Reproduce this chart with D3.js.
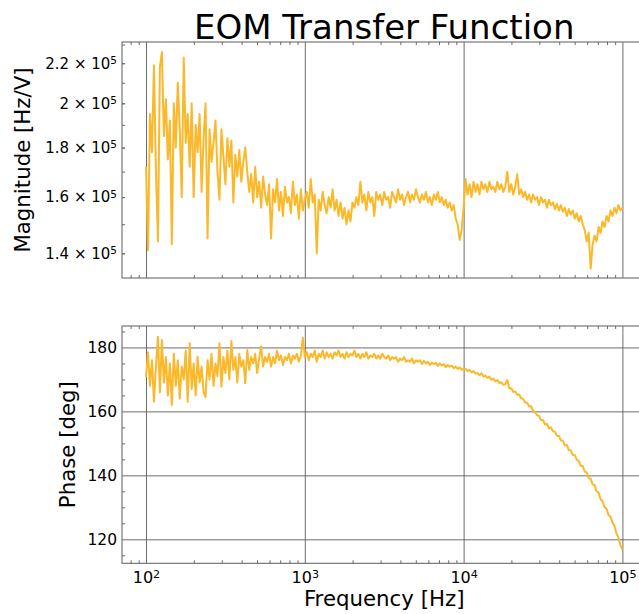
<!DOCTYPE html>
<html>
<head>
<meta charset="utf-8">
<script src="https://cdn.jsdelivr.net/npm/d3@7"></script>
<style>
  body { margin: 0; background: #fff; }
  text { font-family: "DejaVu Sans", sans-serif; fill: #000; }
</style>
</head>
<body>
<div id="chart"></div>
<script>
// sweep frequencies [Hz]
const frequency = [
  100, 102.9, 105.9, 109, 112.2, 115.5, 118.9, 122.3, 125.9, 129.6, 133.4, 137.2, 141.3, 145.4, 149.6, 154, 158.5, 163.1, 167.9, 172.8,
  177.8, 183, 188.4, 193.9, 199.5, 205.4, 211.3, 217.5, 223.9, 230.4, 237.1, 244.1, 251.2, 258.5, 266.1, 273.8, 281.8, 290.1, 298.5, 307.3,
  316.2, 325.5, 335, 344.7, 354.8, 365.2, 375.8, 386.8, 398.1, 409.7, 421.7, 434, 446.7, 459.7, 473.2, 487, 501.2, 515.8, 530.9, 546.4,
  562.3, 578.8, 595.7, 613.1, 631, 649.4, 668.3, 687.9, 708, 728.6, 749.9, 771.8, 794.3, 817.5, 841.4, 866, 891.3, 917.3, 944.1, 971.6,
  1000, 1029, 1059, 1090, 1122, 1155, 1189, 1223, 1259, 1296, 1334, 1372, 1413, 1454, 1496, 1540, 1585, 1631, 1679, 1728,
  1778, 1830, 1884, 1939, 1995, 2054, 2113, 2175, 2239, 2304, 2371, 2441, 2512, 2585, 2661, 2738, 2818, 2901, 2985, 3073,
  3162, 3255, 3350, 3447, 3548, 3652, 3758, 3868, 3981, 4097, 4217, 4340, 4467, 4597, 4732, 4870, 5012, 5158, 5309, 5464,
  5623, 5788, 5957, 6131, 6310, 6494, 6683, 6879, 7080, 7286, 7499, 7718, 7943, 8175, 8414, 8660, 8913, 9173, 9441, 9716,
  10000, 10290, 10590, 10900, 11220, 11550, 11890, 12230, 12590, 12960, 13340, 13720, 14130, 14540, 14960, 15400, 15850, 16310, 16790, 17280,
  17780, 18300, 18840, 19390, 19950, 20540, 21130, 21750, 22390, 23040, 23710, 24410, 25120, 25850, 26610, 27380, 28180, 29010, 29850, 30730,
  31620, 32550, 33500, 34470, 35480, 36520, 37580, 38680, 39810, 40970, 42170, 43400, 44670, 45970, 47320, 48700, 50120, 51580, 53090, 54640,
  56230, 57880, 59570, 61310, 63100, 64940, 66830, 68790, 70800, 72860, 74990, 77180, 79430, 81750, 84140, 86600, 89130, 91730, 94410, 97160,
  100000
]

// magnitude in units of 1e5 Hz/V
const magnitude1e5 = [
  1.72, 1.41, 1.95, 1.78, 2.19, 1.70, 1.44, 2.18, 2.26, 1.85, 2.02, 1.75, 1.92, 1.43, 2.00, 1.80, 2.10, 1.88, 1.60, 2.23,
  1.82, 1.95, 1.72, 2.00, 1.60, 1.90, 1.78, 1.95, 1.62, 1.84, 2.00, 1.45, 1.88, 1.74, 1.82, 1.92, 1.70, 1.59, 1.88, 1.76,
  1.65, 1.84, 1.72, 1.83, 1.58, 1.77, 1.68, 1.79, 1.66, 1.74, 1.80, 1.70, 1.62, 1.69, 1.58, 1.72, 1.60, 1.66, 1.56, 1.68,
  1.61, 1.57, 1.65, 1.45, 1.63, 1.58, 1.67, 1.55, 1.62, 1.53, 1.64, 1.58, 1.60, 1.54, 1.66, 1.57, 1.61, 1.52, 1.63, 1.55,
  1.59, 1.62, 1.56, 1.67, 1.58, 1.61, 1.40, 1.59, 1.55, 1.62, 1.57, 1.54, 1.60, 1.56, 1.63, 1.55, 1.59, 1.53, 1.58, 1.52,
  1.56, 1.50, 1.55, 1.51, 1.58, 1.56, 1.60, 1.57, 1.66, 1.58, 1.61, 1.55, 1.62, 1.58, 1.60, 1.53, 1.62, 1.59, 1.61, 1.57,
  1.62, 1.59, 1.60, 1.56, 1.62, 1.60, 1.58, 1.63, 1.59, 1.61, 1.57, 1.60, 1.62, 1.58, 1.61, 1.59, 1.63, 1.60, 1.58, 1.61,
  1.59, 1.62, 1.58, 1.60, 1.57, 1.61, 1.59, 1.62, 1.58, 1.60, 1.57, 1.59, 1.56, 1.58, 1.55, 1.57, 1.52, 1.50, 1.445, 1.48,
  1.56, 1.67, 1.61, 1.65, 1.60, 1.66, 1.62, 1.65, 1.61, 1.66, 1.63, 1.65, 1.62, 1.66, 1.63, 1.64, 1.62, 1.66, 1.63, 1.65,
  1.62, 1.64, 1.70, 1.62, 1.65, 1.61, 1.64, 1.69, 1.61, 1.63, 1.60, 1.62, 1.59, 1.61, 1.58, 1.61, 1.59, 1.60, 1.57, 1.60,
  1.58, 1.59, 1.56, 1.59, 1.57, 1.58, 1.555, 1.575, 1.55, 1.57, 1.545, 1.56, 1.53, 1.555, 1.535, 1.55, 1.52, 1.54, 1.51, 1.53,
  1.50, 1.48, 1.44, 1.47, 1.35, 1.43, 1.46, 1.44, 1.49, 1.47, 1.51, 1.49, 1.53, 1.51, 1.55, 1.53, 1.56, 1.54, 1.57, 1.55,
  1.56
]

// phase [deg]
const phase = [
  170.8, 178.5, 168, 176, 163, 174, 183.3, 166, 182.3, 169, 177, 165, 175, 162, 178, 168, 176, 164, 174, 170,
  179, 163, 181.3, 167, 175, 165, 177, 169, 174, 166, 164.5, 176, 170, 178, 168, 175, 171, 181.3, 167.7, 177,
  172, 179, 170, 182, 173, 177, 169, 178, 174, 176, 168.8, 179.2, 173, 177, 175, 178, 172, 176.5, 180.4, 174,
  177, 175.5, 178, 174, 177, 175, 179, 176, 177.5, 174.5, 177, 176, 178, 175, 177.5, 176.5, 178, 175.5, 177.5, 183,
  177, 178.5, 176, 178, 177, 179, 175.5, 178, 177, 179, 176.5, 178.5, 177, 178, 176.5, 178.5, 177.5, 179, 177, 178,
  176.5, 178.5, 177, 178, 177.5, 179, 177, 178, 176.5, 178, 177, 178.5, 176.5, 177.5, 177, 178, 176.5, 177.5, 176.5, 178,
  177, 176.5, 177.5, 176, 177, 176.5, 177, 175.5, 176.5, 176, 177, 175.5, 176, 175.5, 176.5, 175, 176, 175.5, 176, 174.8,
  175.8, 175, 175.5, 174.5, 175.3, 174.8, 175.2, 174.2, 175, 174.3, 174.8, 173.8, 174.5, 174, 174.3, 173.5, 174, 173.3, 173.8, 173,
  173.4, 173.3, 172.6, 173.0, 172.2, 172.6, 171.8, 172.0, 171.3, 171.9, 170.9, 171.2, 170.5, 170.9, 169.9, 170.3, 169.4, 169.8, 168.9, 169.1,
  168.3, 168.5, 169.8, 167.2, 167.2, 166.1, 166.2, 165.2, 165.3, 164.1, 163.9, 162.8, 162.7, 161.5, 161.6, 160.2, 159.8, 158.8, 158.6, 157.2,
  157.3, 155.9, 156.1, 154.7, 155.0, 153.8, 153.6, 152.4, 152.3, 151.0, 150.8, 149.4, 149.5, 147.9, 147.8, 146.4, 146.3, 144.9, 144.5, 143.0,
  142.9, 141.2, 140.9, 139.2, 138.9, 137.2, 136.9, 135.0, 134.6, 132.5, 131.9, 130.1, 129.5, 127.6, 127.1, 125.2, 124.2, 121.8, 120.6, 118.2,
  116.7
]

// tick labels
const xMajorTicks = [100, 1000, 10000, 100000]
const magLabelTicks = [1.4, 1.6, 1.8, 2.0, 2.2]
const phaseTicks = [120, 140, 160, 180]
const phaseMinorTicks = [115, 125, 130, 135, 145, 150, 155, 165, 170, 175, 185]

const data = frequency.map((f, i) => ({ f, mag: magnitude1e5[i] * 1e5, phase: phase[i] }))

let dimensions = {
    width: 639,
    height: 614,
    left: 122,
    right: 646.4,
    magTop: 42,
    magBottom: 278,
    phaseTop: 326,
    phaseBottom: 563.3,
}

const lineColor = "#fbb829"
const gridColor = "#5c5c5c"
const spineColor = "#6a6a6a"

const wrapper = d3.select("#chart")
    .append("svg")
    .attr("width", dimensions.width)
    .attr("height", dimensions.height)
    .style("display", "block")

// scales
const xScale = d3.scaleLog()
    .domain([70.6, 141600])
    .range([dimensions.left, dimensions.right])
const magScale = d3.scaleLog()
    .domain([132000, 231400])
    .range([dimensions.magBottom, dimensions.magTop])
const phaseScale = d3.scaleLinear()
    .domain([112.5, 186.7])
    .range([dimensions.phaseBottom, dimensions.phaseTop])

const xMinorTicks = xScale.ticks().filter(t => !xMajorTicks.includes(t))

const clip = (id, y0, y1) => wrapper.append("clipPath").attr("id", id)
    .append("rect")
    .attr("x", dimensions.left)
    .attr("y", y0)
    .attr("width", dimensions.right - dimensions.left)
    .attr("height", y1 - y0)
clip("clip-mag", dimensions.magTop, dimensions.magBottom)
clip("clip-phase", dimensions.phaseTop, dimensions.phaseBottom)

const superLabel = (sel, base, exp) => {
    sel.text(null)
    sel.append("tspan").text(base)
    sel.append("tspan").attr("dy", "-0.45em").attr("font-size", "0.7em").text(exp)
}

const drawPanel = (y0, y1, yScale, accessor, clipId) => {
    const g = wrapper.append("g")

    // vertical grid at decades
    g.append("g")
        .attr("transform", `translate(0,${y1})`)
        .call(d3.axisBottom(xScale).tickValues(xMajorTicks).tickSize(-(y1 - y0)).tickFormat(""))
        .call(a => a.select(".domain").remove())
        .selectAll("line")
        .attr("stroke", gridColor)
        .attr("stroke-width", 0.9)

    // minor x ticks, bottom and top, pointing inward
    g.append("g")
        .attr("transform", `translate(0,${y1})`)
        .call(d3.axisBottom(xScale).tickValues(xMinorTicks).tickSize(-3).tickFormat(""))
        .call(a => a.select(".domain").remove())
        .selectAll("line").attr("stroke", spineColor)
    g.append("g")
        .attr("transform", `translate(0,${y0})`)
        .call(d3.axisTop(xScale).tickValues(xMinorTicks).tickSize(-3).tickFormat(""))
        .call(a => a.select(".domain").remove())
        .selectAll("line").attr("stroke", spineColor)

    // data line
    const lineGenerator = d3.line()
        .x(d => xScale(d.f))
        .y(d => yScale(accessor(d)))
    g.append("path")
        .attr("clip-path", `url(#${clipId})`)
        .attr("d", lineGenerator(data))
        .attr("fill", "none")
        .attr("stroke", lineColor)
        .attr("stroke-width", 2)
        .attr("stroke-linejoin", "round")

    // frame
    g.append("rect")
        .attr("x", dimensions.left)
        .attr("y", y0)
        .attr("width", dimensions.right - dimensions.left)
        .attr("height", y1 - y0)
        .attr("fill", "none")
        .attr("stroke", spineColor)
        .attr("stroke-width", 1.1)
    return g
}

// top panel: magnitude
const magPanel = drawPanel(dimensions.magTop, dimensions.magBottom, magScale, d => d.mag, "clip-mag")
magPanel.append("g")
    .attr("transform", `translate(${dimensions.left},0)`)
    .call(d3.axisLeft(magScale).tickValues(magScale.ticks()).tickSize(-3).tickFormat(""))
    .call(a => a.select(".domain").remove())
    .selectAll("line").attr("stroke", spineColor)
magPanel.append("g")
    .attr("transform", `translate(${dimensions.left},0)`)
    .call(d3.axisLeft(magScale).tickValues(magLabelTicks.map(v => v * 1e5)).tickSize(-3).tickPadding(5))
    .call(a => a.select(".domain").remove())
    .call(a => a.selectAll("line").attr("stroke", spineColor))
    .selectAll("text")
    .attr("font-size", 15)
    .attr("font-family", "DejaVu Sans")
    .each(function (d) { superLabel(d3.select(this), `${d3.format("~g")(d / 1e5)} \u00d7 10`, "5") })

// bottom panel: phase
const phasePanel = drawPanel(dimensions.phaseTop, dimensions.phaseBottom, phaseScale, d => d.phase, "clip-phase")
phasePanel.insert("g", ":first-child")
    .attr("transform", `translate(${dimensions.left},0)`)
    .call(d3.axisLeft(phaseScale).tickValues(phaseTicks).tickSize(-(dimensions.right - dimensions.left)).tickFormat(""))
    .call(a => a.select(".domain").remove())
    .selectAll("line")
    .attr("stroke", gridColor)
    .attr("stroke-width", 0.9)
phasePanel.append("g")
    .attr("transform", `translate(${dimensions.left},0)`)
    .call(d3.axisLeft(phaseScale).tickValues(phaseMinorTicks).tickSize(-3).tickFormat(""))
    .call(a => a.select(".domain").remove())
    .selectAll("line").attr("stroke", spineColor)
phasePanel.append("g")
    .attr("transform", `translate(${dimensions.left},0)`)
    .call(d3.axisLeft(phaseScale).tickValues(phaseTicks).tickSize(0).tickPadding(5))
    .call(a => a.select(".domain").remove())
    .selectAll("text")
    .attr("font-size", 15.5)
    .attr("font-family", "DejaVu Sans")

// x tick labels under the phase panel
phasePanel.append("g")
    .attr("transform", `translate(0,${dimensions.phaseBottom})`)
    .call(d3.axisBottom(xScale).tickValues(xMajorTicks).tickSize(0).tickPadding(8))
    .call(a => a.select(".domain").remove())
    .selectAll("text")
    .attr("font-size", 16)
    .attr("font-family", "DejaVu Sans")
    .each(function (d) { superLabel(d3.select(this), "10", String(Math.round(Math.log10(d)))) })

// titles
wrapper.append("text")
    .attr("x", (dimensions.left + dimensions.right) / 2)
    .attr("y", 39)
    .attr("text-anchor", "middle")
    .attr("font-size", 34)
    .text("EOM Transfer Function")

wrapper.append("text")
    .attr("transform", `translate(30,${(dimensions.magTop + dimensions.magBottom) / 2}) rotate(-90)`)
    .attr("text-anchor", "middle")
    .attr("font-size", 21.3)
    .text("Magnitude [Hz/V]")

wrapper.append("text")
    .attr("transform", `translate(75,${(dimensions.phaseTop + dimensions.phaseBottom) / 2}) rotate(-90)`)
    .attr("text-anchor", "middle")
    .attr("font-size", 21.3)
    .text("Phase [deg]")

wrapper.append("text")
    .attr("x", (dimensions.left + dimensions.right) / 2)
    .attr("y", 606)
    .attr("text-anchor", "middle")
    .attr("font-size", 21.3)
    .text("Frequency [Hz]")
</script>
</body>
</html>
